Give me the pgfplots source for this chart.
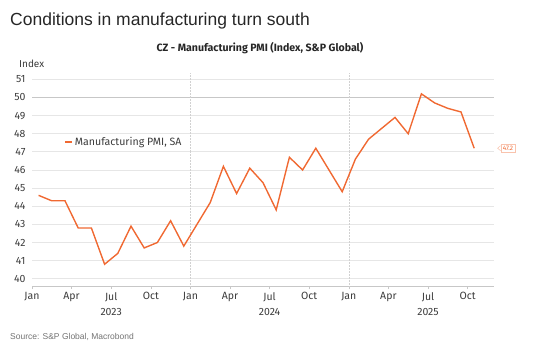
\documentclass[border=0pt]{standalone}
\usepackage{pgfplots}
\pgfplotsset{compat=1.18}
\usepackage{fontspec}
\setmainfont{Liberation Sans}
\newfontfamily\chartfont{Fira Sans}
\definecolor{ingorange}{RGB}{240,105,50}
\definecolor{gridgray}{RGB}{230,230,230}
\definecolor{ticktext}{RGB}{60,60,60}
\pgfplotstableread{
x y
0.5 44.6
1.5 44.3
2.5 44.3
3.5 42.8
4.5 42.8
5.5 40.8
6.5 41.4
7.5 42.9
8.5 41.7
9.5 42.0
10.5 43.2
11.5 41.8
12.5 43.0
13.5 44.2
14.5 46.2
15.5 44.7
16.5 46.1
17.5 45.3
18.5 43.8
19.5 46.7
20.5 46.0
21.5 47.2
22.5 46.0
23.5 44.8
24.5 46.6
25.5 47.7
26.5 48.3
27.5 48.9
28.5 48.0
29.5 50.2
30.5 49.7
31.5 49.4
32.5 49.2
33.5 47.2
}\pmidata
\begin{document}
\begin{tikzpicture}
\path[use as bounding box] (0bp,0bp) rectangle (533bp,358bp);
\node[anchor=base west,font=\fontsize{17.5bp}{20bp}\selectfont,text=black!85,inner sep=0] at (10bp,332bp) {Conditions in manufacturing turn south};
\node[anchor=base,font=\chartfont\bfseries\fontsize{10.6bp}{12bp}\selectfont,text=black!85,inner sep=0] at (260bp,306bp) {CZ - Manufacturing PMI (Index, S\&P Global)};
\node[anchor=base west,font=\chartfont\fontsize{10bp}{12bp}\selectfont,text=ticktext,inner sep=0] at (19bp,290bp) {Index};
\node[anchor=base west,font=\fontsize{8.5bp}{10bp}\selectfont,text=black!55,inner sep=0] at (10bp,19bp) {Source: S\&P Global, Macrobond};
\begin{axis}[
  at={(32bp,72bp)}, anchor=south west,
  width=462bp, height=213bp, scale only axis,
  xmin=0, xmax=35, ymin=39.6, ymax=51.35,
  axis x line=bottom, axis y line=left,
  x axis line style={-,black!22,line width=1pt},
  y axis line style={draw=none},
  xtick={0,3,...,33},
  xticklabels={Jan,Apr,{Jul\\2023},Oct,Jan,Apr,{Jul\\2024},Oct,Jan,Apr,{Jul\\2025},Oct},
  xticklabel style={align=center,font=\chartfont\fontsize{10.5bp}{15bp}\selectfont,text=ticktext},
  ytick={40,41,...,51},
  yticklabel style={font=\chartfont\fontsize{10.5bp}{12bp}\selectfont,text=ticktext},
  /pgf/number format/assume math mode=true,
  ymajorgrids, grid style={gridgray,line width=0.9pt},
  major x tick style={black!22,line width=0.6pt},
  major y tick style={draw=none},
  tick align=outside, major tick length=3bp,
  clip=false,
  legend style={at={(rel axis cs:0.07,0.676)},anchor=west,draw=none,fill=none,
    font=\chartfont\fontsize{10.6bp}{12bp}\selectfont,text=ticktext,inner sep=0pt},
  legend image code/.code={\draw[#1,line width=1.4pt] (0bp,0bp) -- (7bp,0bp);},
]
\draw[black!22,line width=1.4pt] (axis cs:0,50) -- (axis cs:35,50);
\draw[black!18,densely dotted,line width=0.5pt] (axis cs:12,39.6) -- (axis cs:12,51.35);
\draw[black!18,densely dotted,line width=0.5pt] (axis cs:24,39.6) -- (axis cs:24,51.35);
\addplot[ingorange,line width=1.4pt] table[x=x,y=y] {\pmidata};
\addlegendentry{Manufacturing PMI, SA}
\node[draw=ingorange!40,text=ingorange,font=\chartfont\fontsize{6.5bp}{7bp}\selectfont,inner sep=2bp,anchor=west,fill=white] (lab) at (axis cs:35.5,47.2) {47.2};
\draw[ingorange!40,line width=0.5pt] ([yshift=2.5bp]lab.west) -- ++(-3bp,-2.5bp) -- ++(3bp,-2.5bp);
\end{axis}
\end{tikzpicture}
\end{document}
